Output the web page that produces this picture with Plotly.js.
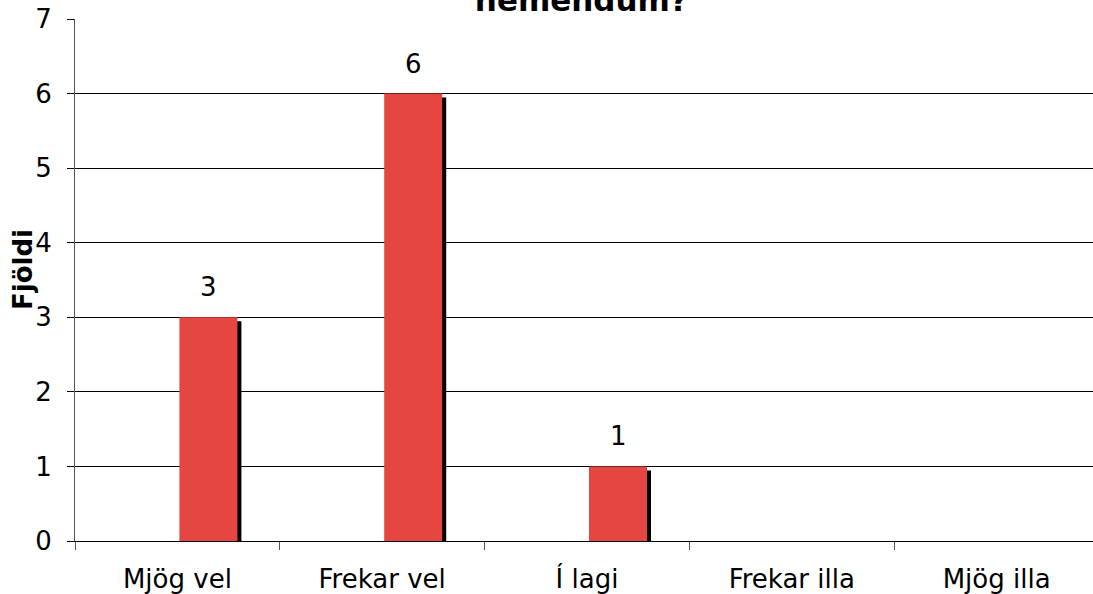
<!DOCTYPE html>
<html>
<head>
<meta charset="utf-8">
<script src="https://cdn.plot.ly/plotly-3.0.1.min.js"></script>
<style>html,body{margin:0;padding:0;overflow:hidden;background:#fff;}</style>
</head>
<body>
<div id="chart" style="width:1099px;height:594px;"></div>
<script>
const categories = ["Mjög vel", "Frekar vel", "Í lagi", "Frekar illa", "Mjög illa"];
const counts = [3, 6, 1, 0, 0];
const yTicks = [0, 1, 2, 3, 4, 5, 6, 7];
const titleText = "nemendum?";
const yTitle = "Fjöldi";

const FONT = 'DejaVu Sans, Verdana, sans-serif';
const W = 1099, H = 594;
const margin = {l: 75, r: 0, t: 19, b: 53};
const plotW = W - margin.l - margin.r;
const plotH = H - margin.t - margin.b;
const pxPerCat = plotW / categories.length;
const pxPerUnit = plotH / 7;
const barW = 58 / pxPerCat;
const barOff = 2 / pxPerCat;
const shX = 4 / pxPerCat;
const shY = 4 / pxPerUnit;

const shadow = {
  type: 'bar', x: categories, y: counts.map(v => v > 0 ? v : null),
  base: counts.map(v => -shY), width: barW, offset: barOff + shX,
  marker: {color: '#000000', line: {width: 0}}, cliponaxis: false,
  hoverinfo: 'skip', showlegend: false
};
const bars = {
  type: 'bar', x: categories, y: counts.map(v => v > 0 ? v : null),
  width: barW, offset: barOff,
  marker: {color: '#E64641', line: {width: 0}}, cliponaxis: false,
  showlegend: false
};

const annotations = categories.map((c, i) => counts[i] > 0 ? {
  x: c, y: counts[i], xref: 'x', yref: 'y', text: String(counts[i]),
  showarrow: false, xshift: (barOff + barW / 2) * pxPerCat, yshift: 30,
  font: {family: FONT, size: 26, color: '#000'}
} : null).filter(a => a);

annotations.push({
  xref: 'paper', yref: 'paper', x: 0, y: 0.5, xanchor: 'center', yanchor: 'middle',
  xshift: -52, yshift: 10, textangle: -90, showarrow: false,
  text: '<b>' + yTitle + '</b>', font: {family: FONT, size: 26, color: '#000'}
});

const layout = {
  width: W, height: H, margin: margin,
  paper_bgcolor: '#fff', plot_bgcolor: '#fff',
  barmode: 'overlay',
  font: {family: FONT, size: 26, color: '#000'},
  title: {text: '<b>' + titleText + '</b>', x: 0.529, xanchor: 'center', y: 1.0, yanchor: 'middle',
          font: {family: FONT, size: 31, color: '#000'}},
  xaxis: {type: 'category', tickson: 'boundaries', ticks: 'outside', ticklen: 8, tickcolor: '#555',
          showline: true, linecolor: '#000', linewidth: 1, showgrid: false, zeroline: false,
          tickfont: {family: FONT, size: 26, color: '#000'},
          ticklabelstandoff: 15, range: [-0.5, categories.length - 0.5]},
  yaxis: {range: [0, 7], tickvals: yTicks, ticks: 'outside', ticklen: 7, tickcolor: '#000',
          showline: true, linecolor: '#555', linewidth: 1, showgrid: true, gridcolor: '#000', gridwidth: 1,
          zeroline: false, ticklabelstandoff: 10,
          tickfont: {family: FONT, size: 26, color: '#000'}},
  annotations: annotations
};

Plotly.newPlot('chart', [shadow, bars], layout, {displayModeBar: false, staticPlot: true});
</script>
</body>
</html>
